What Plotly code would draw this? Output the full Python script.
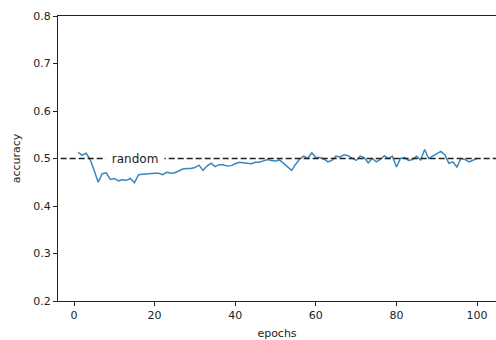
import plotly.graph_objects as go

epochs = list(range(1, 101))
accuracy = [
    0.513, 0.507, 0.511, 0.498, 0.475, 0.450, 0.468, 0.470, 0.456, 0.458,
    0.453, 0.455, 0.454, 0.458, 0.449, 0.466, 0.467, 0.468, 0.468, 0.469,
    0.469, 0.466, 0.471, 0.469, 0.470, 0.474, 0.478, 0.479, 0.479, 0.481,
    0.486, 0.475, 0.484, 0.490, 0.483, 0.487, 0.487, 0.484, 0.485, 0.489,
    0.492, 0.491, 0.490, 0.489, 0.492, 0.492, 0.495, 0.498, 0.496, 0.495,
    0.497, 0.490, 0.484, 0.475, 0.488, 0.499, 0.505, 0.500, 0.512, 0.502,
    0.502, 0.499, 0.493, 0.496, 0.505, 0.503, 0.508, 0.506, 0.501, 0.496,
    0.505, 0.502, 0.491, 0.500, 0.493, 0.498, 0.506, 0.500, 0.505, 0.482,
    0.500, 0.502, 0.496, 0.498, 0.505, 0.497, 0.519, 0.500, 0.505, 0.510,
    0.515, 0.508, 0.490, 0.493, 0.482, 0.500, 0.498, 0.493, 0.497, 0.500,
]
random_level = 0.5
random_label = "random"
x_ticks = [0, 20, 40, 60, 80, 100]
y_ticks = [0.2, 0.3, 0.4, 0.5, 0.6, 0.7, 0.8]

fig = go.Figure()
fig.add_trace(go.Scatter(x=epochs, y=accuracy, mode="lines",
                         line=dict(color="#3a87bd", width=1.5), showlegend=False))
fig.add_trace(go.Scatter(x=[-10, 120], y=[random_level, random_level], mode="lines",
                         line=dict(color="#222222", width=1.5, dash="6px,3px"),
                         showlegend=False))
fig.add_annotation(x=15.2, y=random_level, text=" " + random_label + " ",
                   showarrow=False, bgcolor="white", borderpad=2,
                   font=dict(family="DejaVu Sans", size=12, color="#222222"))

axis_font = dict(family="DejaVu Sans", size=11, color="#222222")
fig.update_layout(
    width=496, height=340,
    margin=dict(l=58, r=0, t=16, b=39),
    plot_bgcolor="white", paper_bgcolor="white",
    font=axis_font,
    xaxis=dict(range=[-3.97, 104.7], tickvals=x_ticks, ticks="outside", ticklen=4,
               tickwidth=0.8, tickcolor="#222", showline=True, linecolor="#222",
               linewidth=1, mirror=True, showgrid=False, zeroline=False,
               title=dict(text="epochs", font=axis_font, standoff=8),
               tickfont=axis_font),
    yaxis=dict(range=[0.2, 0.8], tickvals=y_ticks, tickformat=".1f", ticks="outside",
               ticklen=4, tickwidth=0.8, tickcolor="#222", showline=True,
               linecolor="#222", linewidth=1, showgrid=False, zeroline=False,
               title=dict(text="accuracy", font=axis_font, standoff=10),
               tickfont=axis_font),
)

fig.write_html("out.html")
